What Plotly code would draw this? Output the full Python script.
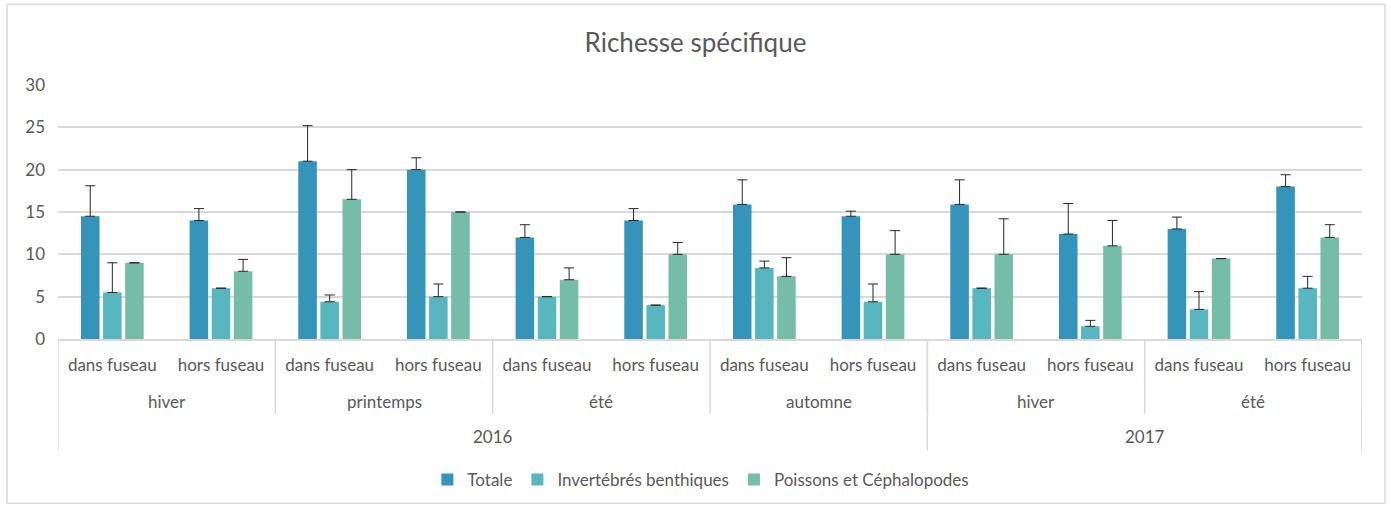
import plotly.graph_objects as go

# categories (3 levels, like the Excel multi-level axis)
years = ["2016"] * 8 + ["2017"] * 4
seasons = ["hiver", "hiver", "printemps", "printemps", "été", "été",
           "automne", "automne", "hiver", "hiver", "été", "été"]
zones = ["dans fuseau", "hors fuseau"] * 6

# series values and their (upper) error bars
totale = [14.5, 14, 21, 20, 12, 14, 15.9, 14.5, 15.9, 12.4, 13, 18]
totale_err = [3.6, 1.4, 4.2, 1.4, 1.5, 1.4, 2.9, 0.6, 2.9, 3.6, 1.4, 1.4]
invert = [5.5, 6, 4.4, 5, 5, 4, 8.4, 4.4, 6, 1.5, 3.5, 6]
invert_err = [3.5, 0, 0.8, 1.5, 0, 0, 0.8, 2.1, 0, 0.7, 2.1, 1.4]
poissons = [9, 8, 16.5, 15, 7, 10, 7.4, 10, 10, 11, 9.5, 12]
poissons_err = [0, 1.4, 3.5, 0, 1.4, 1.4, 2.2, 2.8, 4.2, 3, 0, 1.5]

series = [
    ("Totale", totale, totale_err, "#3494BA"),
    ("Invertébrés benthiques", invert, invert_err, "#58B6C0"),
    ("Poissons et Céphalopodes", poissons, poissons_err, "#75BDA7"),
]

FONT = "Lato"
GREY = "#595959"
LINE = "#D9D9D9"
FS = 17

idx = list(range(len(zones)))
fig = go.Figure()
for name, vals, err, color in series:
    fig.add_bar(
        x=idx, y=vals, name=name,
        marker_color=color, marker_line_width=0,
        error_y=dict(type="data", array=err, arrayminus=[0] * len(err),
                     symmetric=False, color="#262626", thickness=1, width=5),
    )


def runs(labels):
    # consecutive runs of identical labels -> (label, first, last)
    out, start = [], 0
    for i in range(1, len(labels) + 1):
        if i == len(labels) or labels[i] != labels[start]:
            out.append((labels[start], start, i - 1))
            start = i
    return out


season_keys = [y + "|" + s for y, s in zip(years, seasons)]
annotations, shapes = [], []
for key, a, b in runs(season_keys):
    annotations.append(dict(x=(a + b) / 2, y=-0.247, xref="x", yref="paper",
                            yanchor="middle", text=key.split("|")[1],
                            showarrow=False,
                            font=dict(size=FS, color=GREY, family=FONT)))
    shapes.append(dict(type="line", xref="x", yref="paper", x0=b + 0.5, x1=b + 0.5,
                       y0=0, y1=-0.294, line=dict(color=LINE, width=1.5)))
year_runs = runs(years)
for key, a, b in year_runs:
    annotations.append(dict(x=(a + b) / 2, y=-0.384, xref="x", yref="paper",
                            yanchor="middle", text=key, showarrow=False,
                            font=dict(size=FS, color=GREY, family=FONT)))
bounds = [-0.5] + [b + 0.5 for _, _, b in year_runs]
for xb in bounds:
    shapes.append(dict(type="line", xref="x", yref="paper", x0=xb, x1=xb,
                       y0=0, y1=-0.439, line=dict(color=LINE, width=1.5)))

# chart area border
shapes.append(dict(type="rect", xref="paper", yref="paper",
                   x0=-0.0391, x1=1.0176, y0=-0.647, y1=1.3176,
                   line=dict(color=LINE, width=1.5)))

fig.update_layout(
    width=1391, height=508,
    margin=dict(l=58, r=29, t=85, b=168),
    paper_bgcolor="white", plot_bgcolor="white",
    font=dict(family=FONT, color=GREY, size=FS),
    title=dict(text="Richesse spécifique", x=0.5, xanchor="center",
               y=1 - 43 / 508, yanchor="middle",
               font=dict(size=26, color=GREY, family=FONT)),
    barmode="group", bargap=0.39, bargroupgap=0.16,
    showlegend=True,
    legend=dict(orientation="h", x=0.493, xanchor="center", y=-0.549,
                yanchor="middle", font=dict(size=FS, color=GREY),
                itemwidth=30, tracegroupgap=0),
    annotations=annotations,
    shapes=shapes,
)
fig.update_xaxes(
    range=[-0.5, len(zones) - 0.5], tickvals=idx, ticktext=zones,
    showgrid=False, zeroline=False, showline=True, linecolor=LINE, linewidth=1.5,
    ticks="", ticklabelstandoff=10, tickfont=dict(size=FS, color=GREY),
)
fig.update_yaxes(
    range=[0, 30], dtick=5, showgrid=True, gridcolor=LINE, gridwidth=1.5,
    zeroline=False, showline=False, ticks="", ticklabelstandoff=12,
    tickfont=dict(size=FS, color=GREY),
)

# the page body has a default 8px margin: drop it so the figure sits at 0,0
fig.write_html("out.html", config={"displayModeBar": False},
               post_script="document.body.style.margin='0';")
